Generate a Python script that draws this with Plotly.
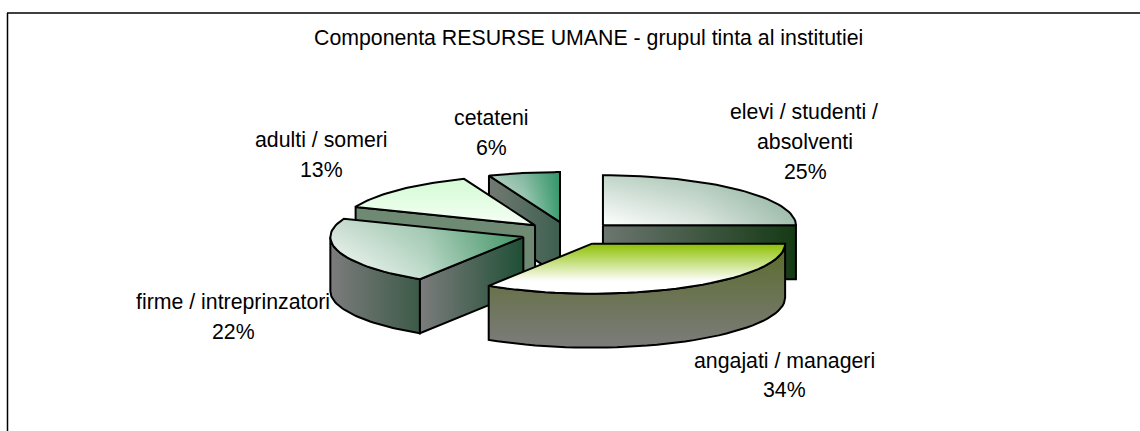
import math
import plotly.graph_objects as go

# ---- data ----
categories = ["elevi / studenti / absolventi", "angajati / manageri",
              "firme / intreprinzatori", "adulti / someri", "cetateni"]
values = [25, 34, 22, 13, 6]
title_text = "Componenta RESURSE UMANE - grupul tinta al institutiei"

# label lines and their anchors on the page (one tuple per line)
label_lines = [
    ["elevi / studenti /", "absolventi"],
    ["angajati / manageri"],
    ["firme / intreprinzatori"],
    ["adulti / someri"],
    ["cetateni"],
]
label_pos = [
    [(804, 112), (805, 142), (805, 172)],
    [(784, 361), (784, 390)],
    [(233, 302), (233, 332)],
    [(321, 140), (321, 170)],
    [(491, 118), (491, 148)],
]

# ---- pie geometry ----
CX, CY, RX, RY = 569, 233.5, 193, 50
DEPTH = 54
EXPLODE_X, EXPLODE_Y = 48, 11.6
W, H = 1140, 431

total = sum(values)
edges = [0]
for v in values:
    edges.append(edges[-1] + v / total * 360)


def apex(i):
    m = math.radians((edges[i] + edges[i + 1]) / 2)
    return CX + EXPLODE_X * math.sin(m), CY - EXPLODE_Y * math.cos(m)


def rim(i, deg):
    ax, ay = apex(i)
    t = math.radians(deg)
    return ax + RX * math.sin(t), ay - RY * math.cos(t)


def arc(i, a1, a2, n=40):
    return [rim(i, a1 + (a2 - a1) * k / n) for k in range(n + 1)]


def down(pts):
    return [(x, y + DEPTH) for x, y in pts]


fig = go.Figure()


def poly(pts, v=None, h=None, solid=None):
    xs = [p[0] for p in pts] + [pts[0][0]]
    ys = [p[1] for p in pts] + [pts[0][1]]
    x0, x1, y0, y1 = min(xs), max(xs), min(ys), max(ys)
    base = dict(x=xs, y=ys, mode="lines", fill="toself", showlegend=False,
                hoverinfo="skip")
    none = dict(width=0, color="rgba(0,0,0,0)")
    if solid:
        fig.add_trace(go.Scatter(**base, fillcolor=solid, line=none))
    if v:
        cs = [[k / (len(v) - 1), c] for k, c in enumerate(v)] if not isinstance(v[0], list) else v
        fig.add_trace(go.Scatter(**base, line=none, fillgradient=dict(
            type="vertical", start=y0, stop=y1, colorscale=cs)))
    if h:
        cs = [[k / (len(h) - 1), c] for k, c in enumerate(h)]
        fig.add_trace(go.Scatter(**base, line=none, fillgradient=dict(
            type="horizontal", start=x0, stop=x1, colorscale=cs)))
    fig.add_trace(go.Scatter(x=xs, y=ys, mode="lines", showlegend=False,
                             hoverinfo="skip",
                             line=dict(color="black", width=2)))


def top(i):
    ax, ay = apex(i)
    return [(ax, ay)] + arc(i, edges[i], edges[i + 1])


def radial_wall(i, deg):
    a = apex(i)
    r = rim(i, deg)
    return [a, r, (r[0], r[1] + DEPTH), (a[0], a[1] + DEPTH)]


def arc_wall(i, a1, a2):
    pts = arc(i, a1, a2)
    return pts + down(pts)[::-1]


# cetateni (back)
poly(radial_wall(4, edges[4]), h=["#727a72", "#3d5f50"])
poly(top(4), v=["#a8c8b8", "#f2f5f2"],
     h=["rgba(30,140,90,0)", "rgba(30,140,90,0.3)", "rgba(30,140,90,0.85)"])
# adulti
poly(radial_wall(3, edges[3]), solid="#6e8a72")
poly(top(3), v=["#d4fbd4", "#f5fff5"])
# elevi
poly(radial_wall(0, edges[1]), h=["#6c7670", "#143a14"])
poly(top(0), v=["#c2d6ca", "#ffffff"],
     h=["rgba(90,140,110,0)", "rgba(90,140,110,0.2)", "rgba(90,140,110,0.55)"])
# firme
poly(arc_wall(2, edges[2], 270), h=["#7c7c7c", "#3c5a48"])
poly(radial_wall(2, edges[2]), h=["#7c7c7c", "#1f4f35"])
poly(top(2), v=["#c8dccf", "#ffffff"],
     h=["rgba(50,140,90,0)", "rgba(50,140,90,0.3)", "rgba(50,140,90,0.9)"])
# angajati (front)
poly(arc_wall(1, edges[1], edges[2]), v=["#5a6b2a", "#7c7c7c"])
poly(top(1), v=[[0, "#8cc000"], [0.75, "#ffffff"], [1, "#ffffff"]])

# ---- texts ----
FONT = dict(family="Liberation Sans, Arial, sans-serif", size=21.3, color="black")
ann = [dict(x=588, y=38, text=title_text, showarrow=False, font=FONT,
            xanchor="center", yanchor="middle")]
for lines, pos, val in zip(label_lines, label_pos, values):
    texts = lines + [f"{val}%"]
    for t, (x, y) in zip(texts, pos):
        ann.append(dict(x=x, y=y, text=t, showarrow=False, font=FONT,
                        xanchor="center", yanchor="middle"))

frame = [
    dict(type="line", x0=7.5, x1=7.5, y0=13, y1=H, line=dict(color="black", width=1.5)),
    dict(type="line", x0=7, x1=W, y0=13, y1=13, line=dict(color="black", width=1.5)),
]

fig.update_layout(
    width=W, height=H, margin=dict(l=0, r=0, t=0, b=0),
    paper_bgcolor="white", plot_bgcolor="white",
    xaxis=dict(range=[0, W], visible=False, fixedrange=True),
    yaxis=dict(range=[H, 0], visible=False, fixedrange=True),
    annotations=ann, shapes=frame, showlegend=False,
)
fig.write_html("out.html", config=dict(displayModeBar=False),
               post_script="document.body.style.margin='0';document.documentElement.style.overflow='hidden';")
